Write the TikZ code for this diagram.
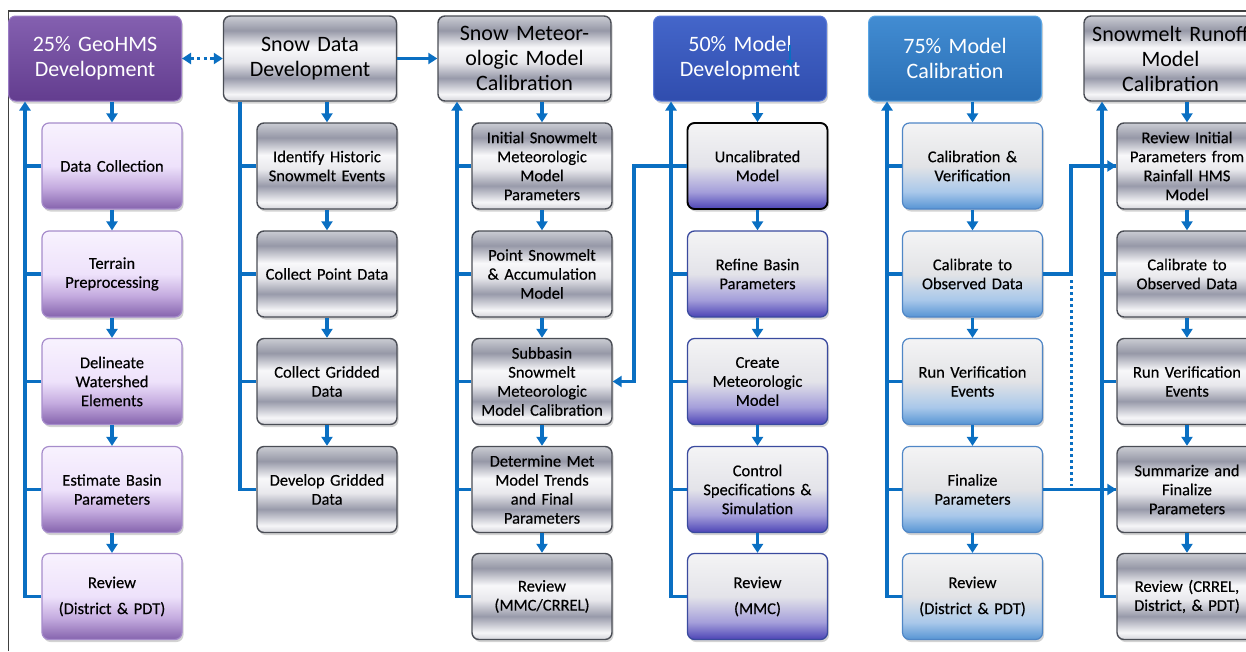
\documentclass[tikz,border=0pt]{standalone}
\usepackage{fontspec}
\setmainfont{Carlito}
\usetikzlibrary{arrows.meta,shadows}

% connector blue
\definecolor{flow}{HTML}{0A6FC2}
% silver stripes (top to bottom)
\definecolor{svA}{HTML}{CACCD3}
\definecolor{svB}{HTML}{9698A7}
\definecolor{svC}{HTML}{F8F8FA}
\definecolor{svD}{HTML}{E8E8EC}
\definecolor{svE}{HTML}{989AAA}
\definecolor{svF}{HTML}{F6F6F8}
\definecolor{svG}{HTML}{D4D4DA}
\definecolor{svLine}{HTML}{4A4D55}
% lilac boxes
\definecolor{plA}{HTML}{F8F2FE}
\definecolor{plB}{HTML}{EEE2FB}
\definecolor{plC}{HTML}{C4ABDF}
\definecolor{plD}{HTML}{8563AD}
\definecolor{plLine}{HTML}{A68CCB}
% violet boxes
\definecolor{vtA}{HTML}{F4F4F5}
\definecolor{vtB}{HTML}{E3E3E9}
\definecolor{vtC}{HTML}{A49EDA}
\definecolor{vtD}{HTML}{4C44B6}
\definecolor{vtLine}{HTML}{3A4A9E}
% sky boxes
\definecolor{skA}{HTML}{F4F4F5}
\definecolor{skB}{HTML}{E2E3E6}
\definecolor{skC}{HTML}{A9C8EA}
\definecolor{skD}{HTML}{5694D4}
\definecolor{skLine}{HTML}{4F86C6}
% header fills
\definecolor{hpTop}{HTML}{8460B0}
\definecolor{hpBot}{HTML}{633D8F}
\definecolor{hpLine}{HTML}{9A7CC4}
\definecolor{hbTop}{HTML}{4466CA}
\definecolor{hbBot}{HTML}{304DAE}
\definecolor{hbLine}{HTML}{5A7AD8}
\definecolor{hsTop}{HTML}{428CD2}
\definecolor{hsBot}{HTML}{2A6FB5}
\definecolor{hsLine}{HTML}{5AA6E4}
\definecolor{frameline}{HTML}{404040}

\pgfdeclareverticalshading{silver}{100bp}{color(0bp)=(svG); color(25bp)=(svG); color(29bp)=(svF); color(38.5bp)=(svE); color(48bp)=(svD); color(56.5bp)=(svC); color(66.5bp)=(svB); color(75bp)=(svA); color(100bp)=(svA)}
\pgfdeclareverticalshading{lilac}{100bp}{color(0bp)=(plD); color(25bp)=(plD); color(37.5bp)=(plC); color(50bp)=(plB); color(75bp)=(plA); color(100bp)=(plA)}
\pgfdeclareverticalshading{violet}{100bp}{color(0bp)=(vtD); color(25bp)=(vtD); color(35bp)=(vtC); color(50bp)=(vtB); color(75bp)=(vtA); color(100bp)=(vtA)}
\pgfdeclareverticalshading{sky}{100bp}{color(0bp)=(skD); color(25bp)=(skD); color(35bp)=(skC); color(50bp)=(skB); color(75bp)=(skA); color(100bp)=(skA)}

\tikzset{
  sub/.style={rounded corners=7pt, minimum width=140pt, minimum height=86pt,
    text width=138pt, align=center, inner sep=0pt,
    font=\fontsize{16.5}{19}\selectfont\addfontfeature{FakeBold=0.3},
    drop shadow={shadow xshift=1.5pt, shadow yshift=-2.5pt, opacity=.35}},
  head/.style={sub, minimum width=173pt, minimum height=85pt, text width=171pt,
    font=\fontsize{22}{25}\selectfont},
  silverbox/.style={shade, shading=silver, draw=svLine, line width=1.4pt},
  lilacbox/.style={shade, shading=lilac, draw=plLine, line width=1.2pt},
  violetbox/.style={shade, shading=violet, draw=vtLine, line width=1.3pt},
  skybox/.style={shade, shading=sky, draw=skLine, line width=1.2pt},
  purplehead/.style={top color=hpTop, bottom color=hpBot, draw=hpLine, line width=1pt, text=white},
  bluehead/.style={top color=hbTop, bottom color=hbBot, draw=hbLine, line width=1pt, text=white},
  skyhead/.style={top color=hsTop, bottom color=hsBot, draw=hsLine, line width=1pt, text=white},
  link/.style={draw=flow, line width=3.3pt},
  arrowed/.style={-{Triangle[length=9pt,width=11pt]}},
  framestroke/.style={draw=frameline, line width=1.3pt}
}

\begin{document}
\begin{tikzpicture}[x=1pt, y=-1pt]
\useasboundingbox (0,0) rectangle (1246,651);

% outer frame
\coordinate (fb) at (8.5,651);
\coordinate (fc) at (8.5,11);
\coordinate (fr) at (1246,11);
\draw[framestroke] (fb) -- (fc) -- (fr);

% headers
\node[head, purplehead] (h1) at (95,58.5) {25\% GeoHMS\\Development};
\node[head, silverbox]  (h2) at (310,58.5) {Snow Data\\Development};
\node[head, silverbox]  (h3) at (524.5,58.5) {Snow Meteor-\\ologic Model\\Calibration};
\node[head, bluehead]   (h4) at (740,58.5) {50\% Model\\Development};
\node[head, skyhead]    (h5) at (955,58.5) {75\% Model\\Calibration};
\node[head, silverbox]  (h6) at (1170.5,58.5) {Snowmelt Runoff\\Model\\Calibration};

% column 1
\node[sub, lilacbox] (a1) at (112,166)   {Data Collection};
\node[sub, lilacbox] (b1) at (112,274)   {Terrain\\Preprocessing};
\node[sub, lilacbox] (c1) at (112,381.5) {Delineate\\Watershed\\Elements};
\node[sub, lilacbox] (d1) at (112,489.5) {Estimate Basin\\Parameters};
\node[sub, lilacbox] (e1) at (112,596.5) {Review\\[7pt](District \& PDT)};

% column 2
\node[sub, silverbox] (a2) at (327,166)   {Identify Historic\\Snowmelt Events};
\node[sub, silverbox] (b2) at (327,274)   {Collect Point Data};
\node[sub, silverbox] (c2) at (327,381.5) {Collect Gridded\\Data};
\node[sub, silverbox] (d2) at (327,489.5) {Develop Gridded\\Data};

% column 3
\node[sub, silverbox] (a3) at (542,166)   {Initial Snowmelt\\Meteorologic\\Model\\Parameters};
\node[sub, silverbox] (b3) at (542,274)   {Point Snowmelt\\\& Accumulation\\Model};
\node[sub, silverbox] (c3) at (542,381.5) {Subbasin\\Snowmelt\\Meteorologic\\Model Calibration};
\node[sub, silverbox] (d3) at (542,489.5) {Determine Met\\Model Trends\\and Final\\Parameters};
\node[sub, silverbox] (e3) at (542,596.5) {Review\\(MMC/CRREL)};

% column 4
\node[sub, violetbox, draw=black, line width=1.9pt] (a4) at (757.5,166) {Uncalibrated\\Model};
\node[sub, violetbox] (b4) at (757.5,274)   {Refine Basin\\Parameters};
\node[sub, violetbox] (c4) at (757.5,381.5) {Create\\Meteorologic\\Model};
\node[sub, violetbox] (d4) at (757.5,489.5) {Control\\Specifications \&\\Simulation};
\node[sub, violetbox] (e4) at (757.5,596.5) {Review\\[7pt](MMC)};

% column 5
\node[sub, skybox] (a5) at (972.5,166)   {Calibration \&\\Verification};
\node[sub, skybox] (b5) at (972.5,274)   {Calibrate to\\Observed Data};
\node[sub, skybox] (c5) at (972.5,381.5) {Run Verification\\Events};
\node[sub, skybox] (d5) at (972.5,489.5) {Finalize\\Parameters};
\node[sub, skybox] (e5) at (972.5,596.5) {Review\\[7pt](District \& PDT)};

% column 6
\node[sub, silverbox] (a6) at (1187,166)   {Review Initial\\Parameters from\\Rainfall HMS\\Model};
\node[sub, silverbox] (b6) at (1187,274)   {Calibrate to\\Observed Data};
\node[sub, silverbox] (c6) at (1187,381.5) {Run Verification\\Events};
\node[sub, silverbox] (d6) at (1187,489.5) {Summarize and\\Finalize\\Parameters};
\node[sub, silverbox] (e6) at (1187,596.5) {Review (CRREL,\\District, \& PDT)};

% trunk lines on the left of each column
\coordinate (t1) at (25,0);
\coordinate (t2) at (240,0);
\coordinate (t3) at (457,0);
\coordinate (t4) at (671,0);
\coordinate (t5) at (887,0);
\coordinate (t6) at (1102,0);

\foreach \c in {1,3,4,5,6}{
  \draw[link, arrowed] (e\c.west) -| (h\c.south -| t\c);
  \foreach \r in {a,b,c,d}
    \draw[link] (\r\c.west) -- (\r\c.west -| t\c);
}
\draw[link] (d2.west) -| (h2.south -| t2);
\foreach \r in {a,b,c}
  \draw[link] (\r2.west) -- (\r2.west -| t2);

% downward steps within each column
\foreach \c in {1,2,3,4,5,6}
  \draw[link, arrowed] (h\c.south -| a\c.north) -- (a\c.north);
\foreach \c in {1,2,3,4,5,6}{
  \draw[link, arrowed] (a\c.south) -- (b\c.north);
  \draw[link, arrowed] (b\c.south) -- (c\c.north);
  \draw[link, arrowed] (c\c.south) -- (d\c.north);
}
\foreach \c in {1,3,4,5,6}
  \draw[link, arrowed] (d\c.south) -- (e\c.north);

% links between headers
\draw[link, {Triangle[length=9pt,width=11pt]}-{Triangle[length=9pt,width=11pt]},
      dash pattern=on 3.3pt off 3.3pt] (h1.east) -- (h2.west);
\draw[link, arrowed] (h2.east) -- (h3.west);

% small mark inside the 50% header
\coordinate (m1) at (790,45);
\coordinate (m2) at (790,67);
\draw[draw=flow, line width=2pt, -{Triangle[length=7pt,width=8pt]}] (m1) -- (m2);

% uncalibrated model feeds the subbasin calibration
\coordinate (k1) at (634,0);
\draw[link, arrowed] (a4.west) -- (a4.west -| k1) |- (c3.east);

% runoff calibration feeds
\coordinate (k2) at (1071,0);
\draw[link, arrowed] (b5.east) -- (b5.east -| k2) |- (a6.west);
\draw[link, arrowed] (d5.east) -- (d6.west);
\coordinate (q1) at (1071,280);
\coordinate (q2) at (1071,486);
\draw[draw=flow, line width=3pt, dash pattern=on 3pt off 3pt] (q1) -- (q2);

\end{tikzpicture}
\end{document}
